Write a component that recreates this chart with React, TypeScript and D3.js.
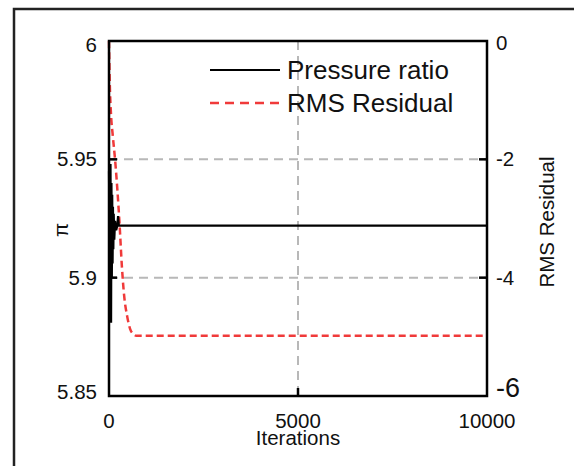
import React from "react";
import * as d3 from "d3";

const iterTicks = [0, 5000, 10000];
const piTicks = [5.85, 5.9, 5.95, 6];
const piTickLabels = ["5.85", "5.9", "5.95", "6"];
const rmsTicks = [-6, -4, -2, 0];
const rmsTickLabels = ["-6", "-4", "-2", "0"];

const pressureIter = [0, 20, 40, 55, 65, 75, 85, 95, 105, 115, 125, 140, 160, 190, 220, 240, 260, 400, 10000];
const pressureVal = [5.945, 5.905, 5.948, 5.881, 5.94, 5.9, 5.935, 5.906, 5.93, 5.912, 5.927, 5.916, 5.924, 5.92, 5.922, 5.926, 5.922, 5.922, 5.922];

const rmsIter = [0, 20, 50, 100, 160, 220, 280, 340, 400, 480, 560, 640, 720, 800, 10000];
const rmsVal = [0, -0.7, -1.2, -1.6, -2.0, -2.5, -3.1, -3.8, -4.3, -4.65, -4.87, -4.95, -4.98, -4.98, -4.98];

const legendLabels = ["Pressure ratio", "RMS Residual"];

export default function App() {
  const W = 574, H = 466;
  const left = 109, right = 487, top = 41, bottom = 396;
  const x = d3.scaleLinear().domain([0, 10000]).range([left, right]);
  const yL = d3.scaleLinear().domain([5.85, 6]).range([bottom, top]);
  const yR = d3.scaleLinear().domain([-6, 0]).range([bottom, top]);

  const pData = pressureIter.map((it, i) => [it, pressureVal[i]] as [number, number]);
  const rData = rmsIter.map((it, i) => [it, rmsVal[i]] as [number, number]);
  const pLine = d3.line<[number, number]>().x(d => x(d[0])).y(d => yL(d[1]));
  const rLine = d3.line<[number, number]>().x(d => x(d[0])).y(d => yR(d[1])).curve(d3.curveMonotoneX);

  const font = "Liberation Sans, Arial, sans-serif";
  const grid = "#b8b8b8";
  const fs = 20.5;

  return (
    <svg width={W} height={H} style={{ position: "absolute", left: 0, top: 0 }} fontFamily={font}>
      <rect x={0} y={0} width={W} height={H} fill="#fff" />
      <rect x={14} y={9} width={W + 20} height={H + 20} fill="none" stroke="#222" strokeWidth={2.5} />
      {/* gridlines */}
      {[5.9, 5.95].map(v => (
        <line key={v} x1={left} x2={right} y1={yL(v)} y2={yL(v)} stroke={grid} strokeWidth={2} strokeDasharray="9,6" />
      ))}
      <line x1={x(5000)} x2={x(5000)} y1={top} y2={bottom} stroke={grid} strokeWidth={2} strokeDasharray="9,6" />
      {/* data */}
      <path d={rLine(rData) || ""} fill="none" stroke="#f03a3a" strokeWidth={2.5} strokeDasharray="7,4" />
      <path d={pLine(pData) || ""} fill="none" stroke="#000" strokeWidth={2.2} />
      {/* frame */}
      <rect x={left} y={top} width={right - left} height={bottom - top} fill="none" stroke="#000" strokeWidth={2.5} />
      {/* ticks */}
      {[5.9, 5.95].map(v => (
        <line key={"lt" + v} x1={left} x2={left + 8} y1={yL(v)} y2={yL(v)} stroke="#000" strokeWidth={2.5} />
      ))}
      {[-4, -2].map(v => (
        <line key={"rt" + v} x1={right - 8} x2={right} y1={yR(v)} y2={yR(v)} stroke="#000" strokeWidth={2.5} />
      ))}
      <line x1={x(5000)} x2={x(5000)} y1={bottom - 8} y2={bottom} stroke="#000" strokeWidth={2.5} />
      {/* left tick labels */}
      {piTicks.map((v, i) => (
        <text key={"ll" + v} x={97} y={yL(v) + 7 - (i === 0 ? 4 : 0) + (i === 3 ? 4 : 0)} fontSize={fs} textAnchor="end" fill="#111">{piTickLabels[i]}</text>
      ))}
      {/* right tick labels */}
      {rmsTicks.map((v, i) => (
        <text key={"rl" + v} x={496} y={yR(v) + (i === 0 ? 1 : 7) + (i === 3 ? 2 : 0)} fontSize={i === 0 ? 27 : fs} fill="#111">{rmsTickLabels[i]}</text>
      ))}
      {/* bottom tick labels */}
      {iterTicks.map(v => (
        <text key={"bl" + v} x={x(v)} y={428} fontSize={fs} textAnchor="middle" fill="#111">{v}</text>
      ))}
      <text x={x(5000)} y={445} fontSize={fs} textAnchor="middle" fill="#111">Iterations</text>
      <text transform={`translate(68,230) rotate(-90)`} fontSize={fs} textAnchor="middle" fill="#111">π</text>
      <text transform={`translate(554,222) rotate(-90)`} fontSize={fs} textAnchor="middle" fill="#111">RMS Residual</text>
      {/* legend */}
      <line x1={210} x2={280} y1={70} y2={70} stroke="#000" strokeWidth={2.2} />
      <text x={287} y={79} fontSize={26} fill="#111">{legendLabels[0]}</text>
      <line x1={210} x2={280} y1={103} y2={103} stroke="#f03a3a" strokeWidth={2.5} strokeDasharray="9,6" />
      <text x={287} y={112} fontSize={26} fill="#111">{legendLabels[1]}</text>
    </svg>
  );
}
